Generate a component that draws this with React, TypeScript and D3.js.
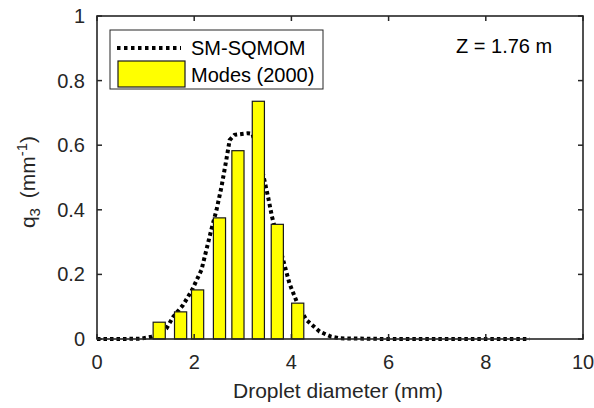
import React from "react";
import * as d3 from "d3";

// SM-SQMOM model curve (diameter mm, q3 mm^-1)
const modelD = [0, 0.5, 0.9, 1.12, 1.25, 1.43, 1.57, 1.77, 1.95, 2.15, 2.35, 2.46, 2.56, 2.66, 2.73, 2.83, 3.1, 3.2, 3.42, 3.52, 3.6, 3.83, 3.96, 4.15, 4.31, 4.58, 4.82, 5.0, 6.0, 7.0, 8.0, 8.9];
const modelQ = [0, 0, 0.001, 0.007, 0.016, 0.033, 0.069, 0.105, 0.15, 0.214, 0.337, 0.4, 0.47, 0.554, 0.616, 0.632, 0.637, 0.635, 0.508, 0.44, 0.379, 0.245, 0.172, 0.1, 0.059, 0.023, 0.007, 0.002, 0, 0, 0, 0];

// Modes (2000) bars
const barD = [1.28, 1.72, 2.07, 2.52, 2.9, 3.32, 3.71, 4.13];
const barQ = [0.052, 0.084, 0.152, 0.375, 0.583, 0.736, 0.355, 0.111];
const barWidth = 0.25;

const xTicks = [0, 2, 4, 6, 8, 10];
const yTicks = [0, 0.2, 0.4, 0.6, 0.8, 1];
const yTickLabels = ["0", "0.2", "0.4", "0.6", "0.8", "1"];
const legendLabels = ["SM-SQMOM", "Modes (2000)"];
const annotation = "Z = 1.76 m";

const W = 594;
const H = 408;
const L = 97, R = 583, T = 16, B = 339;
const INK = "#262626";
const FONT = "'Liberation Sans', Arial, Helvetica, sans-serif";

export default function App() {
  const x = d3.scaleLinear().domain([0, 10]).range([L, R]);
  const y = d3.scaleLinear().domain([0, 1]).range([B, T]);
  const line = d3
    .line<number>()
    .x((_, i) => x(modelD[i]))
    .y((d) => y(d));
  const tl = 5;
  return (
    <svg
      width={W}
      height={H}
      style={{ position: "absolute", left: 0, top: 0, background: "#fff" }}
      fontFamily={FONT}
    >
      <rect x={0} y={0} width={W} height={H} fill="#fff" />
      {/* model curve (behind bars) */}
      <path
        d={line(modelQ) || ""}
        fill="none"
        stroke="#000"
        strokeWidth={4}
        strokeDasharray="3.5 3"
      />
      {/* bars */}
      {barD.map((d, i) => (
        <rect
          key={i}
          x={x(d - barWidth / 2)}
          y={y(barQ[i])}
          width={x(d + barWidth / 2) - x(d - barWidth / 2)}
          height={y(0) - y(barQ[i])}
          fill="#ffff00"
          stroke="#1a1a1a"
          strokeWidth={1.2}
        />
      ))}
      {/* axes box */}
      <rect x={L} y={T} width={R - L} height={B - T} fill="none" stroke={INK} strokeWidth={1.6} />
      {xTicks.map((t) => (
        <g key={"x" + t}>
          <line x1={x(t)} x2={x(t)} y1={B} y2={B - tl} stroke={INK} strokeWidth={1.5} />
          <line x1={x(t)} x2={x(t)} y1={T} y2={T + tl} stroke={INK} strokeWidth={1.5} />
          <text x={x(t)} y={369} textAnchor="middle" fontSize={20} fill={INK}>
            {t}
          </text>
        </g>
      ))}
      {yTicks.map((t, i) => (
        <g key={"y" + t}>
          <line x1={L} x2={L + tl} y1={y(t)} y2={y(t)} stroke={INK} strokeWidth={1.5} />
          <line x1={R} x2={R - tl} y1={y(t)} y2={y(t)} stroke={INK} strokeWidth={1.5} />
          <text x={85} y={y(t) + 7} textAnchor="end" fontSize={20} fill={INK}>
            {yTickLabels[i]}
          </text>
        </g>
      ))}
      {/* axis labels */}
      <text x={338} y={398} textAnchor="middle" fontSize={21} fill={INK}>
        Droplet diameter (mm)
      </text>
      <text
        transform={`translate(35,182) rotate(-90)`}
        textAnchor="middle"
        fontSize={21}
        fill={INK}
      >
        q<tspan dy={5} fontSize={15}>3</tspan>
        <tspan dy={-5} dx={4}> (mm</tspan>
        <tspan dy={-8} fontSize={15}>-1</tspan>
        <tspan dy={8}>)</tspan>
      </text>
      {/* annotation */}
      <text x={456} y={53} fontSize={20} fill="#000">
        {annotation}
      </text>
      {/* legend */}
      <rect x={110} y={30} width={213} height={59} fill="#fff" stroke={INK} strokeWidth={1} />
      <line x1={117} x2={181} y1={48} y2={48} stroke="#000" strokeWidth={4} strokeDasharray="3.5 3.5" />
      <rect x={118} y={61} width={67} height={26} fill="#ffff00" stroke="#1a1a1a" strokeWidth={1.2} />
      <text x={191} y={55} fontSize={20} fill="#000">
        {legendLabels[0]}
      </text>
      <text x={191} y={82} fontSize={20} fill="#000">
        {legendLabels[1]}
      </text>
    </svg>
  );
}
